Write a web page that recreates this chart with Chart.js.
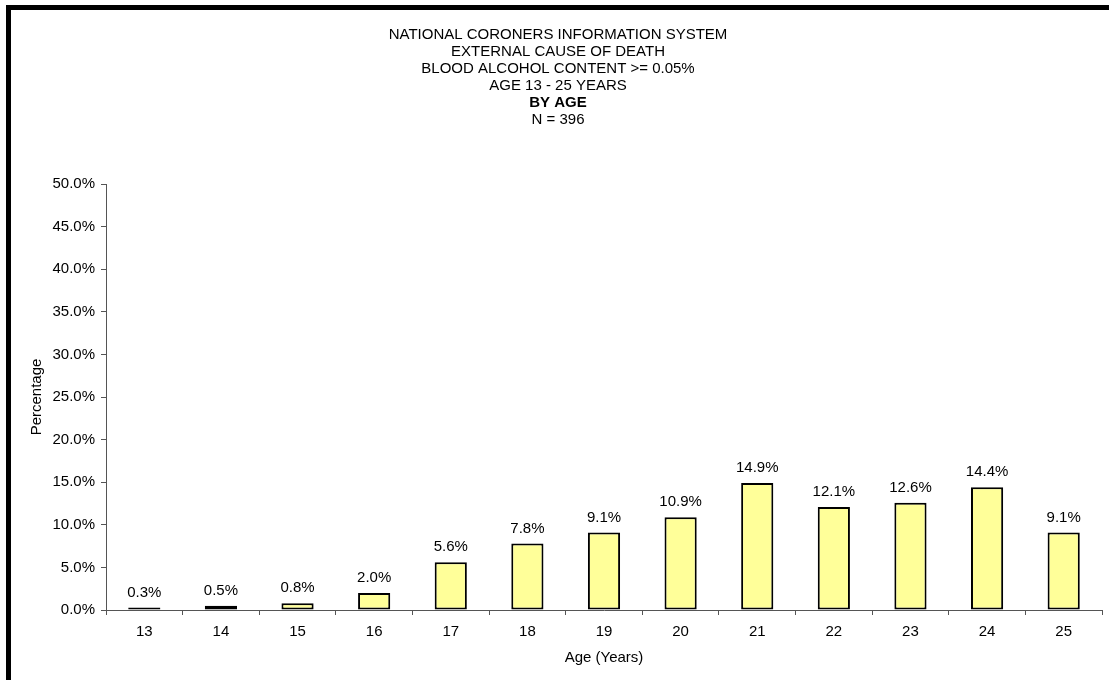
<!DOCTYPE html>
<html>
<head>
<meta charset="utf-8">
<script src="https://cdn.jsdelivr.net/npm/chart.js@4/dist/chart.umd.min.js"></script>
<style>
  html, body { margin: 0; padding: 0; background: #fff; }
  #wrap { position: relative; width: 1109px; height: 680px; overflow: hidden; }
  #frame {
    position: absolute; left: 6px; top: 5px; width: 1200px; height: 800px;
    border-left: 5px solid #000; border-top: 5px solid #000;
    pointer-events: none;
  }
</style>
</head>
<body>
<div id="wrap">
  <canvas id="ageChart" width="1109" height="680"></canvas>
  <div id="frame"></div>
</div>
<script>
// Blood alcohol >= 0.05%, age 13-25, share of deaths by age.
const ages = ['13','14','15','16','17','18','19','20','21','22','23','24','25'];
const pctByAge = [0.3,0.5,0.8,2.0,5.6,7.8,9.1,10.9,14.9,12.1,12.6,14.4,9.1];
const titleLines = [
  'NATIONAL CORONERS INFORMATION SYSTEM',
  'EXTERNAL CAUSE OF DEATH',
  'BLOOD ALCOHOL CONTENT >= 0.05%',
  'AGE 13 - 25 YEARS',
  'BY AGE',
  'N = 396'
];
const boldLine = 'BY AGE';

const fontFamily = '"Liberation Sans", Arial, sans-serif';

// Header block + value labels over bars, drawn on the canvas.
const textPlugin = {
  id: 'textPlugin',
  afterDatasetsDraw(chart) {
    const ctx = chart.ctx;
    ctx.save();
    ctx.fillStyle = '#000';
    ctx.textAlign = 'center';
    ctx.textBaseline = 'middle';
    titleLines.forEach((line, i) => {
      ctx.font = (line === boldLine ? 'bold ' : '') + '15px ' + fontFamily;
      ctx.fillText(line, 558, 35 + i * 17);
    });
    ctx.font = '15px ' + fontFamily;
    const meta = chart.getDatasetMeta(0);
    meta.data.forEach((bar, i) => {
      ctx.fillText(pctByAge[i].toFixed(1) + '%', bar.x, bar.y - 15);
    });
    ctx.restore();
  }
};

new Chart(document.getElementById('ageChart').getContext('2d'), {
  type: 'bar',
  data: {
    labels: ages,
    datasets: [{
      data: pctByAge,
      backgroundColor: '#FFFF99',
      borderColor: '#000000',
      borderWidth: 2,
      borderSkipped: false,
      categoryPercentage: 1.0,
      barPercentage: 0.42
    }]
  },
  options: {
    responsive: false,
    animation: false,
    layout: { padding: { top: 184, right: 7, left: 0, bottom: 0 } },
    plugins: {
      legend: { display: false },
      tooltip: { enabled: false }
    },
    scales: {
      x: {
        grid: { offset: true, drawOnChartArea: false, drawTicks: true, tickLength: 5, color: '#555' },
        border: { display: true, color: '#555', width: 1 },
        ticks: { color: '#000', font: { size: 15, family: fontFamily }, padding: 8 },
        title: {
          display: true, text: 'Age (Years)', color: '#000',
          font: { size: 15, family: fontFamily }, padding: { top: 0, bottom: 13 }
        },
        afterFit(scale) { scale.height = 70; }
      },
      y: {
        min: 0,
        max: 50,
        grid: { drawOnChartArea: false, drawTicks: true, tickLength: 5, color: '#555' },
        border: { display: true, color: '#555', width: 1 },
        ticks: {
          stepSize: 5,
          color: '#000',
          font: { size: 15, family: fontFamily },
          padding: 6,
          callback: v => v.toFixed(1) + '%'
        },
        title: {
          display: true, text: 'Percentage', color: '#000',
          font: { size: 15, family: fontFamily }, padding: { top: 28, bottom: 0 }
        },
        afterFit(scale) { scale.width = 106; }
      }
    }
  },
  plugins: [textPlugin]
});
</script>
</body>
</html>
